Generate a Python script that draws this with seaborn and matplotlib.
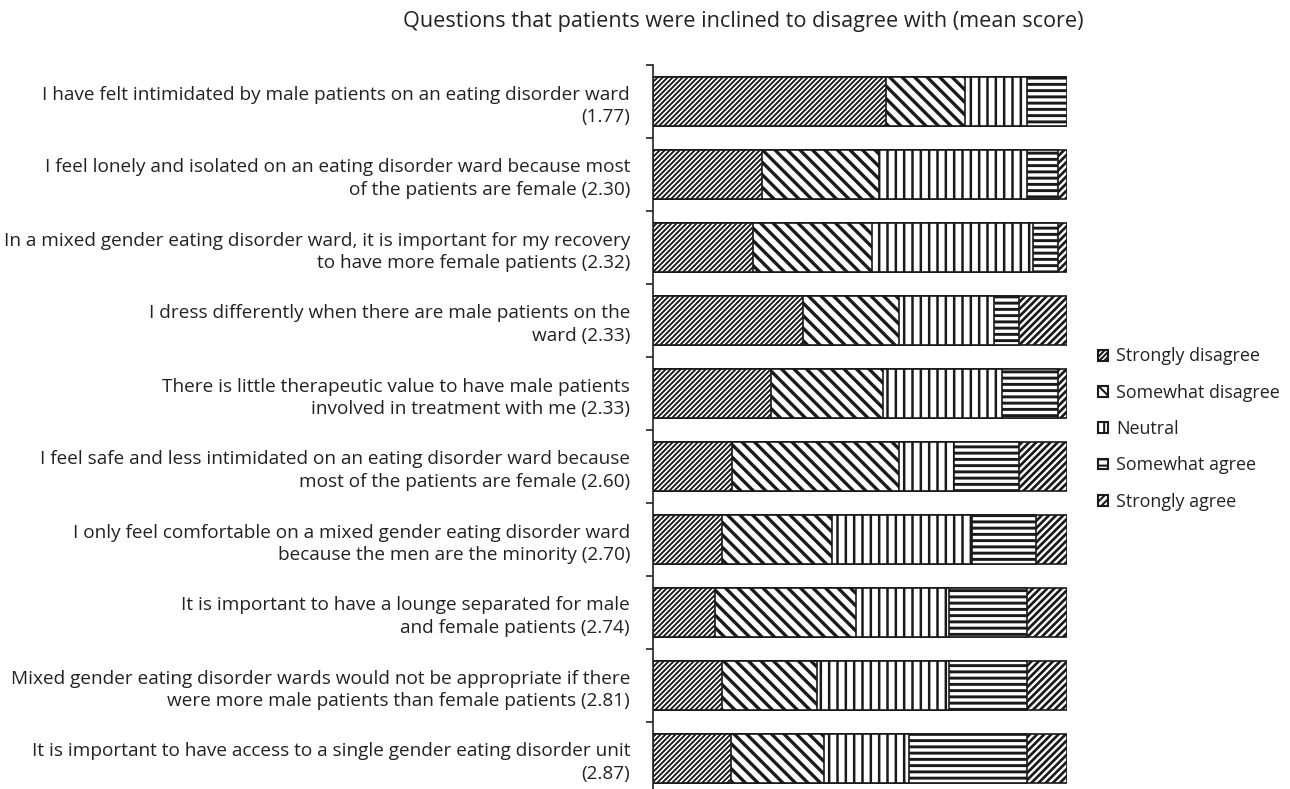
import numpy as np
import pandas as pd
import seaborn as sns
import matplotlib.pyplot as plt
from matplotlib.patches import Patch

# Questions (top to bottom) and share of answers (%) per response level.
questions = [
    "I have felt intimidated by male patients on an eating disorder ward\n(1.77)",
    "I feel lonely and isolated on an eating disorder ward because most\nof the patients are female (2.30)",
    "In a mixed gender eating disorder ward, it is important for my recovery\nto have more female patients (2.32)",
    "I dress differently when there are male patients on the\nward (2.33)",
    "There is little therapeutic value to have male patients\ninvolved in treatment with me (2.33)",
    "I feel safe and less intimidated on an eating disorder ward because\nmost of the patients are female (2.60)",
    "I only feel comfortable on a mixed gender eating disorder ward\nbecause the men are the minority (2.70)",
    "It is important to have a lounge separated for male\nand female patients (2.74)",
    "Mixed gender eating disorder wards would not be appropriate if there\nwere more male patients than female patients (2.81)",
    "It is important to have access to a single gender eating disorder unit\n(2.87)",
]
strongly_disagree = [56.3, 26.3, 24.2, 36.3, 28.5, 19.0, 16.7, 15.0, 16.7, 18.8]
somewhat_disagree = [19.1, 28.4, 28.7, 23.2, 27.1, 40.5, 26.6, 34.0, 22.8, 22.6]
neutral = [15.0, 35.6, 38.9, 22.9, 28.6, 13.3, 33.8, 22.5, 32.0, 20.5]
somewhat_agree = [9.6, 7.6, 6.0, 6.0, 13.7, 15.6, 15.3, 18.9, 18.9, 28.5]
strongly_agree = [0.0, 2.1, 2.2, 11.6, 2.1, 11.6, 7.6, 9.6, 9.6, 9.6]

levels = ["Strongly disagree", "Somewhat disagree", "Neutral", "Somewhat agree", "Strongly agree"]
hatches = ["/" * 10, "\\" * 4, "|||", "----", "/" * 7]
hatch_lw = [0.9, 1.6, 1.2, 1.4, 1.3]

df = pd.DataFrame({"question": questions,
                   "Strongly disagree": strongly_disagree,
                   "Somewhat disagree": somewhat_disagree,
                   "Neutral": neutral,
                   "Somewhat agree": somewhat_agree,
                   "Strongly agree": strongly_agree})
cum = df[levels].cumsum(axis=1)

sns.set_theme(style="white")
plt.rcParams["font.family"] = ["Open Sans", "DejaVu Sans"]

fig = plt.figure(figsize=(8.6, 5.26), dpi=150)
ax = fig.add_axes([653 / 1290, -6 / 789, 414 / 1290, 730 / 789])

# stacked bars: draw cumulative totals from the widest one down
for i in range(len(levels) - 1, -1, -1):
    with plt.rc_context({"hatch.linewidth": hatch_lw[i]}):
        sns.barplot(x=cum[levels[i]], y=df["question"], orient="h", color="white",
                    edgecolor="#1a1a1a", linewidth=0.8, hatch=hatches[i], width=0.66,
                    saturation=1, ax=ax)
    for bar in ax.containers[-1]:
        bar.set_facecolor("white")
        if hasattr(bar, "set_hatch_linewidth"):
            bar.set_hatch_linewidth(hatch_lw[i])

ax.set_xlim(0, 100)
ax.set_ylim(9.5, -0.5)
ax.set_xlabel("")
ax.set_ylabel("")
ax.set_xticks([])
ax.tick_params(axis="y", which="major", length=0, pad=11, labelsize=9.1, labelcolor="#222222")
for lab in ax.get_yticklabels():
    lab.set_linespacing(1.35)
ax.set_yticks(np.arange(-0.5, 10, 1), minor=True)
ax.tick_params(axis="y", which="minor", length=3.5, width=0.8, color="#222222", direction="out", left=True)
for side in ["top", "right", "bottom"]:
    ax.spines[side].set_visible(False)
ax.spines["left"].set_color("#222222")
ax.spines["left"].set_linewidth(0.8)

fig.text(743 / 1290, 1 - 22 / 789, "Questions that patients were inclined to disagree with (mean score)",
         ha="center", va="center", fontsize=10.4, color="#222222")

handles = []
for h, lw in zip(hatches, hatch_lw):
    p = Patch(facecolor="white", edgecolor="#1a1a1a", hatch=h, linewidth=1.0)
    if hasattr(p, "set_hatch_linewidth"):
        p.set_hatch_linewidth(lw)
    handles.append(p)
fig.legend(handles, levels, loc="center left", bbox_to_anchor=(1098 / 1290, 1 - 429 / 789),
           frameon=False, fontsize=8.6, handlelength=0.55, handleheight=0.55, borderpad=0,
           borderaxespad=0, handletextpad=0.45, labelspacing=1.02, labelcolor="#222222")

fig.savefig("out.png", dpi=150)
